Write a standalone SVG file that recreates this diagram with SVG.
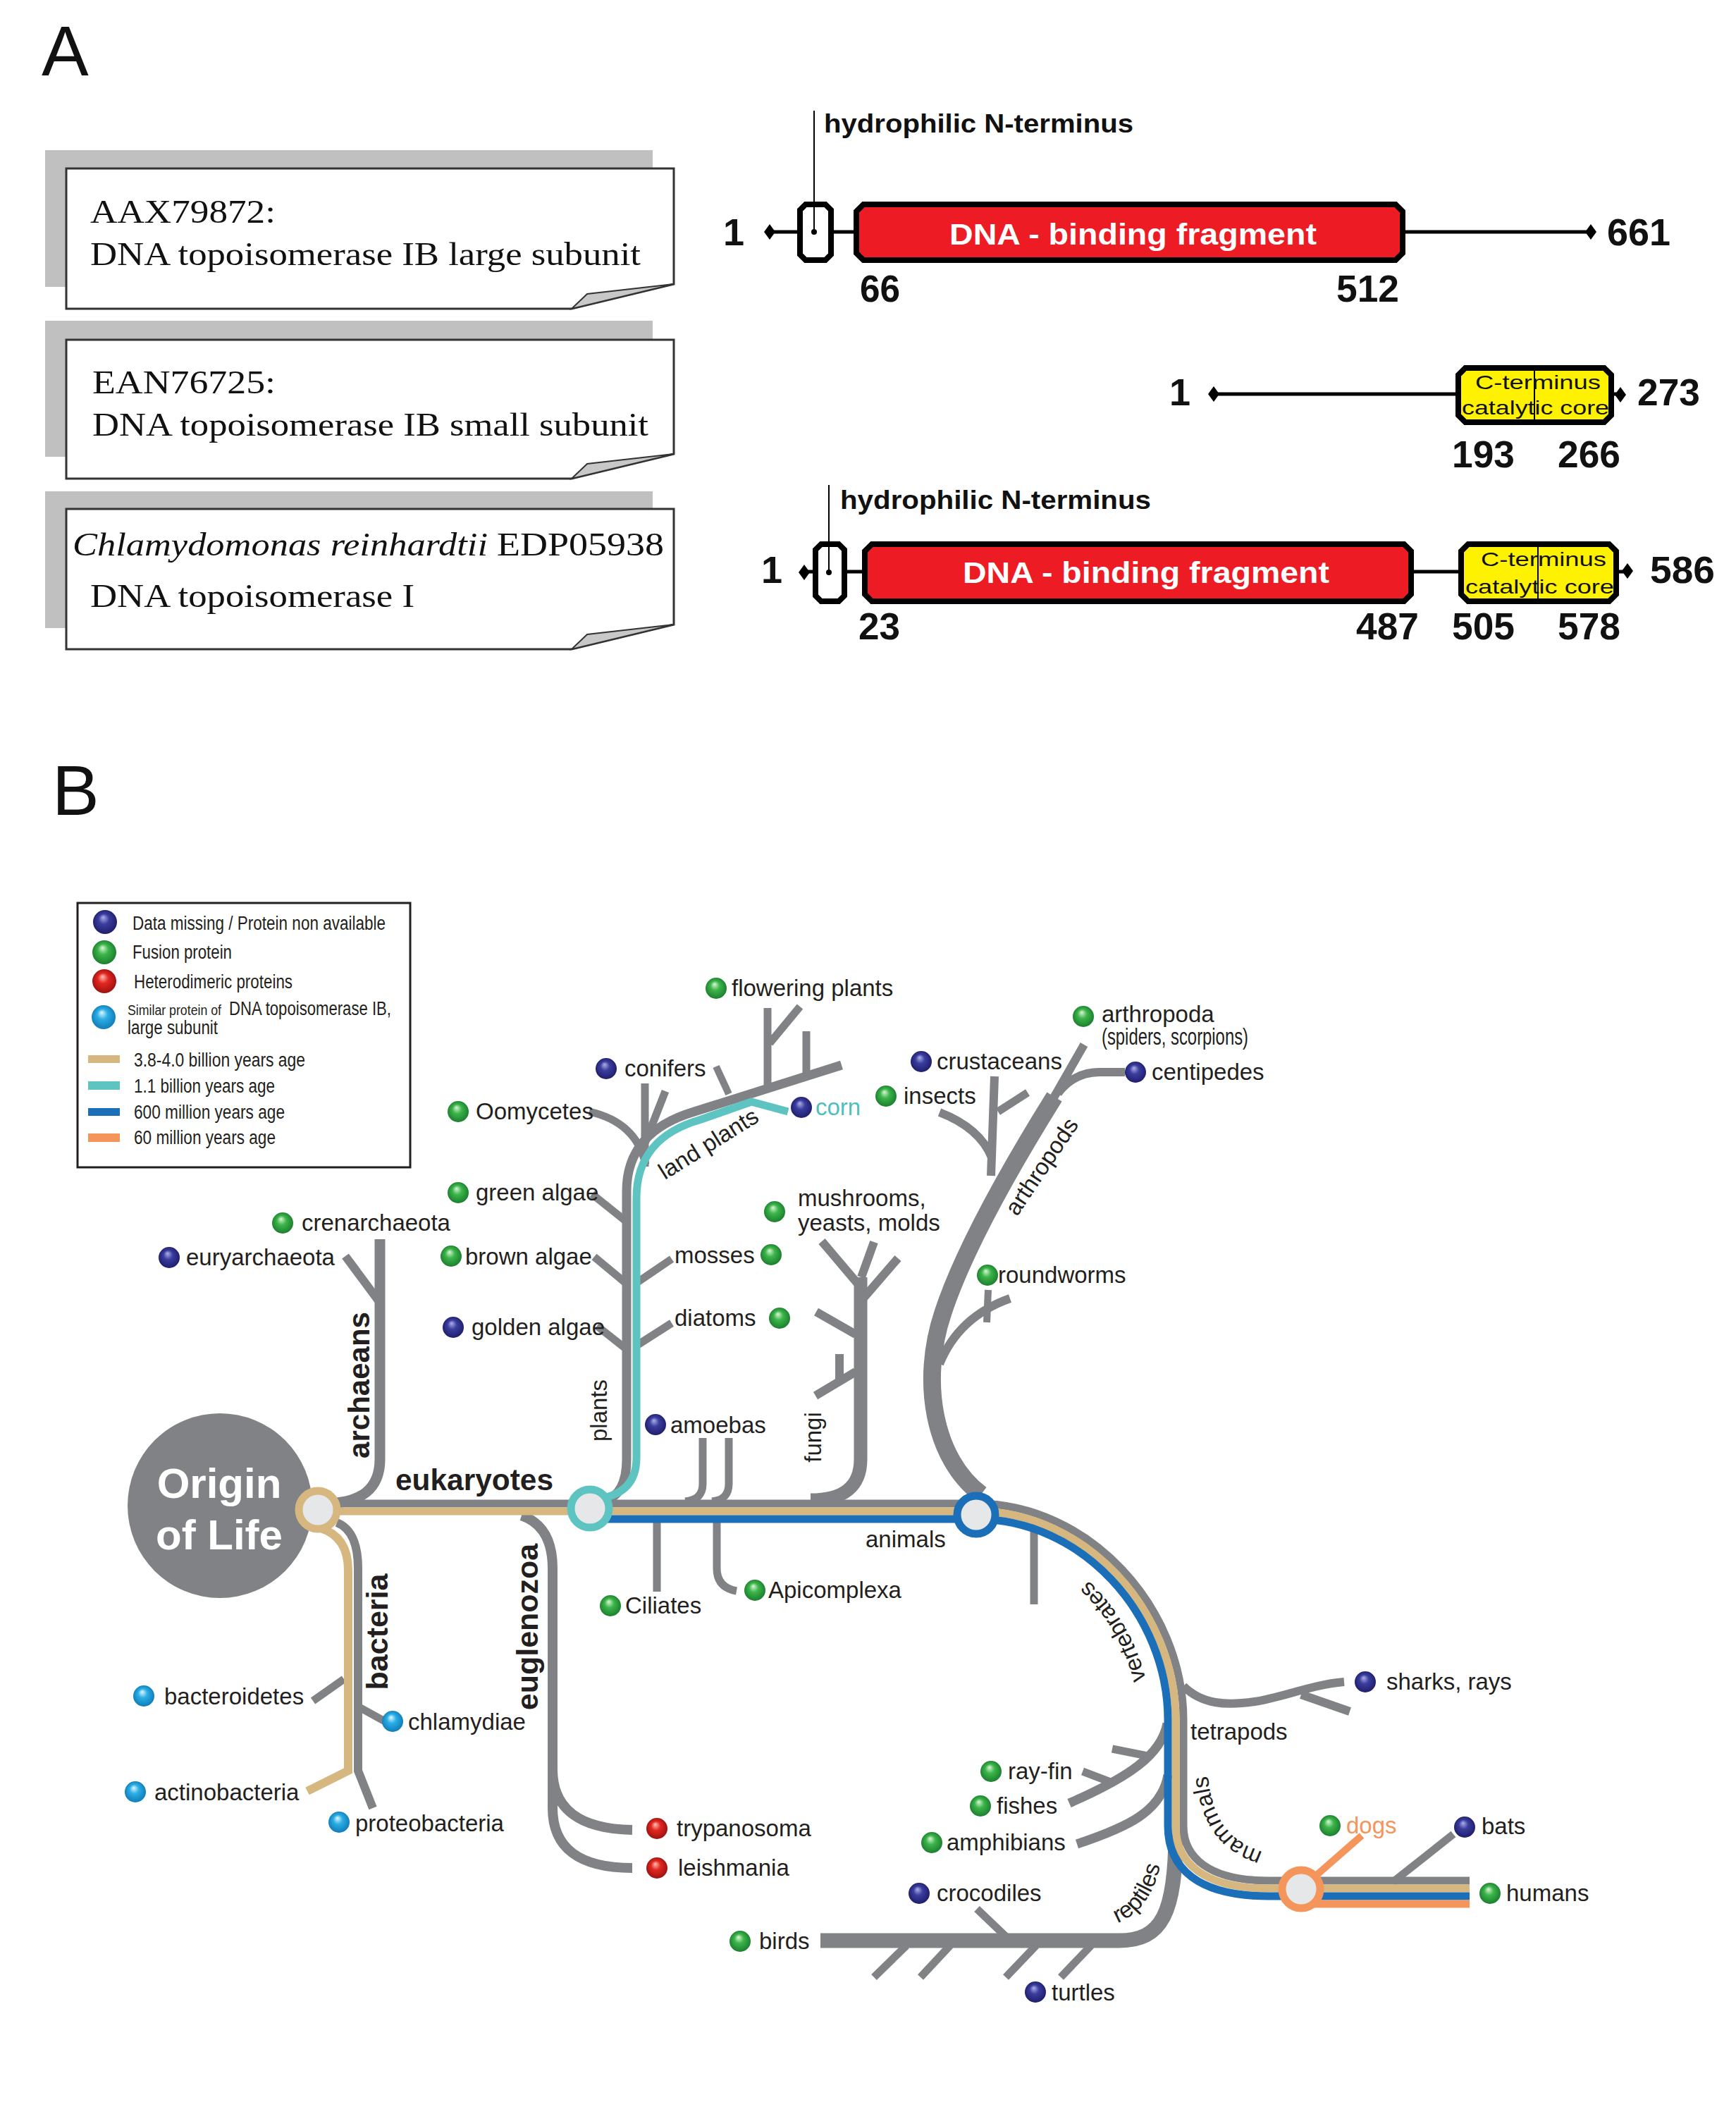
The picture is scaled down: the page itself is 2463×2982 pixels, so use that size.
<svg xmlns="http://www.w3.org/2000/svg" xmlns:xlink="http://www.w3.org/1999/xlink" width="2463" height="2982" viewBox="0 0 2463 2982">
<defs>
<radialGradient id="gB" cx="0.5" cy="0.5" r="0.55" fx="0.42" fy="0.3"><stop offset="0" stop-color="#b0b0ea"/><stop offset="0.4" stop-color="#3a3d9e"/><stop offset="1" stop-color="#1c1a66"/></radialGradient>
<radialGradient id="gG" cx="0.5" cy="0.5" r="0.55" fx="0.42" fy="0.3"><stop offset="0" stop-color="#dcf7d6"/><stop offset="0.4" stop-color="#3cb54a"/><stop offset="1" stop-color="#18782b"/></radialGradient>
<radialGradient id="gR" cx="0.5" cy="0.5" r="0.55" fx="0.42" fy="0.3"><stop offset="0" stop-color="#ffc0b6"/><stop offset="0.4" stop-color="#e3271f"/><stop offset="1" stop-color="#951010"/></radialGradient>
<radialGradient id="gC" cx="0.5" cy="0.5" r="0.55" fx="0.42" fy="0.3"><stop offset="0" stop-color="#e0f8ff"/><stop offset="0.4" stop-color="#2aade5"/><stop offset="1" stop-color="#0d77b3"/></radialGradient>
<circle id="bB" r="15" fill="url(#gB)"/>
<circle id="bG" r="15" fill="url(#gG)"/>
<circle id="bR" r="15" fill="url(#gR)"/>
<circle id="bC" r="15" fill="url(#gC)"/>
<path id="dia" d="M-8,0 L0,-11 L8,0 L0,11 Z" fill="#000"/>
<path id="vtp" d="M 1632,2440 C 1632,2305 1522,2178 1385,2178"/>
<path id="mtp" d="M 1806,2630 C 1751,2620 1716,2585 1713,2505"/>
<path id="rtp" d="M 1530,2738 C 1605,2738 1650,2700 1652,2590"/>
</defs>
<style>
.serif{font-family:"Liberation Serif","Times New Roman",serif;font-size:46px;fill:#111}
.num{font-family:"Liberation Sans",Arial,sans-serif;font-weight:bold;font-size:54px;fill:#111}
.hyd{font-family:"Liberation Sans",Arial,sans-serif;font-weight:bold;font-size:36px;fill:#111}
.dbf{font-family:"Liberation Sans",Arial,sans-serif;font-weight:bold;font-size:43px;fill:#fff}
.ct{font-family:"Liberation Sans",Arial,sans-serif;font-size:28px;fill:#111}
.leg{font-family:"Liberation Sans",Arial,sans-serif;font-size:27px;fill:#231f20}
.lbl{font-family:"Liberation Sans",Arial,sans-serif;font-size:33px;fill:#231f20}
.bold{font-family:"Liberation Sans",Arial,sans-serif;font-weight:bold;fill:#231f20}
.panel{font-family:"Liberation Sans",Arial,sans-serif;font-size:100px;fill:#111}
.g{fill:none;stroke:#808285}
.dom{stroke:#000;stroke-width:8;stroke-linejoin:miter}
.bb{stroke:#000;stroke-width:5}
</style>
<rect width="2463" height="2982" fill="#fff"/>

<!-- Panel A -->
<text class="panel" x="59" y="107">A</text>

<g id="boxAAX">
<rect x="64" y="213" width="862" height="194" fill="#c0c0c0"/>
<polygon points="94,239 956,239 956,403 811,438 94,438" fill="#fff" stroke="#333" stroke-width="3"/>
<polygon points="811,438 833,417 956,403" fill="#c8c8c8" stroke="#333" stroke-width="2"/>
<text class="serif" x="128" y="316" textLength="263" lengthAdjust="spacingAndGlyphs">AAX79872:</text>
<text class="serif" x="128" y="376" textLength="781" lengthAdjust="spacingAndGlyphs">DNA topoisomerase IB large subunit</text>
</g>
<g id="boxEAN">
<rect x="64" y="455" width="862" height="193" fill="#c0c0c0"/>
<polygon points="94,482 956,482 956,644 811,679 94,679" fill="#fff" stroke="#333" stroke-width="3"/>
<polygon points="811,679 833,658 956,644" fill="#c8c8c8" stroke="#333" stroke-width="2"/>
<text class="serif" x="131" y="558" textLength="260" lengthAdjust="spacingAndGlyphs">EAN76725:</text>
<text class="serif" x="131" y="618" textLength="789" lengthAdjust="spacingAndGlyphs">DNA topoisomerase IB small subunit</text>
</g>
<g id="boxEDP">
<rect x="64" y="697" width="862" height="194" fill="#c0c0c0"/>
<polygon points="94,722 956,722 956,886 811,921 94,921" fill="#fff" stroke="#333" stroke-width="3"/>
<polygon points="811,921 833,900 956,886" fill="#c8c8c8" stroke="#333" stroke-width="2"/>
<text class="serif" x="103" y="788" font-style="italic" textLength="589" lengthAdjust="spacingAndGlyphs">Chlamydomonas reinhardtii</text>
<text class="serif" x="705" y="788" textLength="237" lengthAdjust="spacingAndGlyphs">EDP05938</text>
<text class="serif" x="128" y="861" textLength="460" lengthAdjust="spacingAndGlyphs">DNA topoisomerase I</text>
</g>

<g id="protein1">
<line class="bb" x1="1092" y1="329" x2="2257" y2="329"/>
<use href="#dia" x="1092" y="329"/>
<use href="#dia" x="2257" y="329"/>
<line x1="1155" y1="157" x2="1155" y2="329" stroke="#000" stroke-width="2"/>
<polygon class="dom" points="1143,290 1171,290 1179,298 1179,361 1171,369 1143,369 1135,361 1135,298" fill="#fff"/>
<line x1="1155" y1="294" x2="1155" y2="329" stroke="#000" stroke-width="2"/>
<circle cx="1155" cy="329" r="4" fill="#000"/>
<polygon class="dom" points="1225,290 1980,290 1990,300 1990,359 1980,369 1225,369 1215,359 1215,300" fill="#ed1c24"/>
<text class="dbf" x="1347" y="347" textLength="521" lengthAdjust="spacingAndGlyphs">DNA - binding fragment</text>
<text class="hyd" x="1169" y="188" textLength="439" lengthAdjust="spacingAndGlyphs">hydrophilic N-terminus</text>
<text class="num" x="1026" y="348">1</text>
<text class="num" x="2280" y="348" textLength="90" lengthAdjust="spacingAndGlyphs">661</text>
<text class="num" x="1220" y="428" textLength="57" lengthAdjust="spacingAndGlyphs">66</text>
<text class="num" x="1896" y="428" textLength="89" lengthAdjust="spacingAndGlyphs">512</text>
</g>

<g id="protein2">
<line class="bb" x1="1722" y1="559" x2="2299" y2="559"/>
<use href="#dia" x="1722" y="559"/>
<use href="#dia" x="2299" y="560"/>
<polygon class="dom" points="2079,522 2276,522 2286,532 2286,589 2276,599 2079,599 2069,589 2069,532" fill="#fff200"/>
<line x1="2177" y1="524" x2="2177" y2="597" stroke="#000" stroke-width="2"/>
<text class="ct" x="2093" y="552" textLength="178" lengthAdjust="spacingAndGlyphs">C-terminus</text>
<text class="ct" x="2074" y="588" textLength="209" lengthAdjust="spacingAndGlyphs">catalytic core</text>
<text class="num" x="1659" y="575">1</text>
<text class="num" x="2323" y="575" textLength="89" lengthAdjust="spacingAndGlyphs">273</text>
<text class="num" x="2060" y="663" textLength="89" lengthAdjust="spacingAndGlyphs">193</text>
<text class="num" x="2210" y="663" textLength="89" lengthAdjust="spacingAndGlyphs">266</text>
</g>

<g id="protein3">
<line class="bb" x1="1141" y1="811" x2="2309" y2="811"/>
<use href="#dia" x="1141" y="812"/>
<use href="#dia" x="2309" y="810"/>
<line x1="1176" y1="688" x2="1176" y2="812" stroke="#000" stroke-width="2"/>
<polygon class="dom" points="1165,772 1190,772 1198,780 1198,845 1190,853 1165,853 1157,845 1157,780" fill="#fff"/>
<line x1="1176" y1="776" x2="1176" y2="812" stroke="#000" stroke-width="2"/>
<circle cx="1176" cy="812" r="4" fill="#000"/>
<polygon class="dom" points="1237,772 1992,772 2002,782 2002,843 1992,853 1237,853 1227,843 1227,782" fill="#ed1c24"/>
<polygon class="dom" points="2083,772 2283,772 2293,782 2293,843 2283,853 2083,853 2073,843 2073,782" fill="#fff200"/>
<line x1="2182" y1="776" x2="2182" y2="849" stroke="#000" stroke-width="2"/>
<text class="ct" x="2101" y="803" textLength="178" lengthAdjust="spacingAndGlyphs">C-terminus</text>
<text class="ct" x="2079" y="842" textLength="211" lengthAdjust="spacingAndGlyphs">catalytic core</text>
<text class="dbf" x="1366" y="827" textLength="520" lengthAdjust="spacingAndGlyphs">DNA - binding fragment</text>
<text class="hyd" x="1192" y="722" textLength="441" lengthAdjust="spacingAndGlyphs">hydrophilic N-terminus</text>
<text class="num" x="1080" y="827">1</text>
<text class="num" x="2341" y="827" textLength="92" lengthAdjust="spacingAndGlyphs">586</text>
<text class="num" x="1218" y="907" textLength="59" lengthAdjust="spacingAndGlyphs">23</text>
<text class="num" x="1924" y="907" textLength="89" lengthAdjust="spacingAndGlyphs">487</text>
<text class="num" x="2060" y="907" textLength="89" lengthAdjust="spacingAndGlyphs">505</text>
<text class="num" x="2210" y="907" textLength="89" lengthAdjust="spacingAndGlyphs">578</text>
</g>

<!-- Panel B -->
<text class="panel" x="74" y="1156" font-size="96">B</text>

<g id="legend">
<rect x="110" y="1281" width="472" height="375" fill="#fff" stroke="#231f20" stroke-width="3"/>
<circle cx="149" cy="1308" r="17" fill="url(#gB)"/>
<circle cx="148" cy="1351" r="17" fill="url(#gG)"/>
<circle cx="148" cy="1392" r="17" fill="url(#gR)"/>
<circle cx="147" cy="1443" r="17" fill="url(#gC)"/>
<rect x="125" y="1497" width="45" height="11" fill="#d6b77f"/>
<rect x="125" y="1534" width="45" height="12" fill="#5dc4c2"/>
<rect x="125" y="1572" width="45" height="11" fill="#1b6fb8"/>
<rect x="125" y="1608" width="45" height="12" fill="#f4955b"/>
<text class="leg" x="188" y="1319" textLength="359" lengthAdjust="spacingAndGlyphs">Data missing / Protein non available</text>
<text class="leg" x="188" y="1360" textLength="141" lengthAdjust="spacingAndGlyphs">Fusion protein</text>
<text class="leg" x="190" y="1402" textLength="225" lengthAdjust="spacingAndGlyphs">Heterodimeric proteins</text>
<text class="leg" y="1440"><tspan x="181" font-size="20" textLength="133" lengthAdjust="spacingAndGlyphs">Similar protein of</tspan><tspan x="325" textLength="230" lengthAdjust="spacingAndGlyphs">DNA topoisomerase IB,</tspan></text>
<text class="leg" x="181" y="1467" textLength="128" lengthAdjust="spacingAndGlyphs">large subunit</text>
<text class="leg" x="190" y="1513" textLength="243" lengthAdjust="spacingAndGlyphs">3.8-4.0 billion years age</text>
<text class="leg" x="190" y="1550" textLength="200" lengthAdjust="spacingAndGlyphs">1.1 billion years age</text>
<text class="leg" x="190" y="1587" textLength="214" lengthAdjust="spacingAndGlyphs">600 million years age</text>
<text class="leg" x="190" y="1623" textLength="201" lengthAdjust="spacingAndGlyphs">60 million years age</text>
</g>

<g id="connectors">
<!-- gray branches -->
<path class="g" stroke-width="15" d="M 460,2133 Q 539,2133 539,2070 V 1758"/>
<path class="g" stroke-width="12" d="M 539,1848 L 490,1782"/>
<path class="g" stroke-width="13" d="M 855,2130 Q 889,2122 889,2070 V 1690 C 889,1630 925,1595 985,1577 L 1194,1511"/>
<path class="g" stroke-width="11" d="M 915,1655 V 1537 M 915,1622 L 944,1548"/>
<path class="g" stroke-width="11" d="M 836,1577 Q 903,1592 916,1652"/>
<path class="g" stroke-width="10" d="M 1016,1513 L 1034,1552"/>
<path class="g" stroke-width="11" d="M 1089,1542 V 1430 M 1092,1480 L 1135,1428 M 1144,1524 V 1463"/>
<path class="g" stroke-width="11" d="M 840,1694 L 890,1734 M 843,1783 L 890,1822 M 847,1881 L 890,1915"/>
<path class="g" stroke-width="11" d="M 903,1820 L 953,1786 M 903,1909 L 953,1877"/>
<path class="g" stroke-width="11" d="M 997,2040 V 2105 Q 997,2128 972,2130 M 1034,2040 V 2105 Q 1034,2128 1010,2130"/>
<path class="g" stroke-width="19" d="M 1150,2128 Q 1221,2128 1221,2070 V 1812"/>
<path class="g" stroke-width="12" d="M 1216,1820 L 1166,1761 M 1222,1812 L 1240,1762 M 1223,1844 L 1274,1785 M 1214,1893 L 1158,1861 M 1214,1946 L 1157,1980 M 1191,1921 V 1958"/>
<path class="g" stroke-width="25" d="M 1392,2120 C 1325,2070 1305,1960 1338,1862 C 1365,1780 1425,1670 1496,1556"/>
<path class="g" stroke-width="12" d="M 1490,1566 L 1538,1482 M 1501,1551 Q 1524,1521 1560,1521 L 1596,1521"/>
<path class="g" stroke-width="12" d="M 1411,1527 L 1406,1668 M 1333,1578 Q 1390,1600 1407,1642"/>
<path class="g" stroke-width="11" d="M 1416,1577 L 1458,1550"/>
<path class="g" stroke-width="12" d="M 1333,1935 Q 1360,1868 1433,1842"/>
<path class="g" stroke-width="10" d="M 1402,1830 L 1400,1876"/>
<path class="g" stroke-width="11" d="M 932,2160 V 2258"/>
<path class="g" stroke-width="11" d="M 1017,2160 V 2225 Q 1017,2252 1045,2257"/>
<path class="g" stroke-width="11" d="M 1467,2160 V 2276"/>
<path class="g" stroke-width="14" d="M 740,2150 Q 784,2165 784,2225 V 2510 Q 784,2594 897,2596 M 784,2500 V 2565 Q 784,2650 897,2650"/>
<path class="g" stroke-width="12" d="M 478,2160 Q 508,2172 508,2225 V 2512 L 529,2565"/>
<path class="g" stroke-width="11" d="M 488,2382 L 444,2413 M 508,2421 L 546,2442"/>
<path class="g" stroke-width="12" d="M 1679,2392 C 1705,2418 1740,2420 1780,2414 C 1820,2408 1860,2390 1907,2386 M 1846,2404 L 1915,2428"/>
<path class="g" stroke-width="13" d="M 1656,2445 C 1648,2490 1600,2522 1517,2558 M 1657,2518 C 1648,2570 1600,2592 1528,2616"/>
<path class="g" stroke-width="11" d="M 1578,2481 L 1628,2491 M 1536,2513 L 1578,2529"/>
<path class="g" stroke-width="21" d="M 1668,2600 C 1668,2715 1648,2753 1588,2753 H 1164"/>
<path class="g" stroke-width="11" d="M 1386,2708 L 1430,2750 M 1240,2805 L 1286,2760 M 1306,2805 L 1348,2760 M 1427,2805 L 1470,2760 M 1505,2805 L 1548,2760"/>
<path class="g" stroke-width="11" d="M 1976,2670 L 2062,2602"/>
<!-- colored lineage lines -->
<path fill="none" stroke="#808285" stroke-width="11" d="M 451,2133 H 1385 C 1545,2133 1679,2280 1679,2440 V 2590 C 1679,2635 1715,2668 1800,2668 H 2085"/>
<path fill="none" stroke="#d6b77f" stroke-width="11" d="M 451,2144 H 1385 C 1540,2144 1668,2285 1668,2440 V 2590 C 1668,2643 1708,2679 1800,2679 H 2085"/>
<path fill="none" stroke="#1b6fb8" stroke-width="11" d="M 837,2155 H 1385 C 1535,2155 1657,2290 1657,2440 V 2590 C 1657,2651 1700,2690 1800,2690 H 2085"/>
<path fill="none" stroke="#f4955b" stroke-width="11" d="M 1846,2701 H 2085"/>
<path fill="none" stroke="#f4955b" stroke-width="10" d="M 1868,2660 L 1932,2604"/>
<path fill="none" stroke="#d6b77f" stroke-width="12" d="M 455,2168 Q 494,2180 494,2228 V 2512 L 436,2541"/>
<path fill="none" stroke="#5dc4c2" stroke-width="11" d="M 850,2126 Q 903,2118 903,2068 V 1700 C 903,1640 935,1605 995,1588 L 1066,1563 L 1118,1577"/>
</g>

<g id="origin">
<circle cx="312" cy="2136" r="131" fill="#808285"/>
<text class="bold" x="311" y="2125" font-size="60" style="fill:#fff" text-anchor="middle">Origin</text>
<text class="bold" x="311" y="2198" font-size="60" style="fill:#fff" text-anchor="middle">of Life</text>
</g>
<g id="node-eukaryotes"><circle cx="451" cy="2142" r="27" fill="#e6e7e8" stroke="#d6b77f" stroke-width="11"/></g>
<g id="node-plants"><circle cx="837" cy="2140" r="27" fill="#e6e7e8" stroke="#5dc4c2" stroke-width="11"/></g>
<g id="node-animals"><circle cx="1385" cy="2149" r="27" fill="#e6e7e8" stroke="#1b6fb8" stroke-width="11"/></g>
<g id="node-mammals"><circle cx="1846" cy="2680" r="27" fill="#e6e7e8" stroke="#f4955b" stroke-width="11"/></g>

<g id="group-labels">
<text class="bold" font-size="42" transform="translate(524,1965) rotate(-90)" text-anchor="middle">archaeans</text>
<text class="bold" font-size="42" x="561" y="2114" textLength="224" lengthAdjust="spacingAndGlyphs">eukaryotes</text>
<text class="bold" font-size="43" transform="translate(550,2315) rotate(-90)" text-anchor="middle">bacteria</text>
<text class="bold" font-size="43" transform="translate(763,2308) rotate(-90)" text-anchor="middle">euglenozoa</text>
<text class="lbl" transform="translate(861,2001) rotate(-90)" text-anchor="middle">plants</text>
<text class="lbl" transform="translate(1165,2039) rotate(-90)" text-anchor="middle">fungi</text>
<text class="lbl" transform="translate(1011,1632) rotate(-32)" text-anchor="middle">land plants</text>
<text class="lbl" transform="translate(1487,1661) rotate(-56)" text-anchor="middle">arthropods</text>
<text class="lbl" x="1228" y="2195">animals</text>
<text class="lbl" x="1689" y="2468">tetrapods</text>
<text class="lbl"><textPath href="#vtp" startOffset="140" text-anchor="middle">vertebrates</textPath></text>
<text class="lbl"><textPath href="#mtp" startOffset="50%" text-anchor="middle">mammals</textPath></text>
<text class="lbl"><textPath href="#rtp" startOffset="50%" text-anchor="middle">reptiles</textPath></text>
</g>

<g id="n-flowering"><use href="#bG" x="1016" y="1402"/><text class="lbl" x="1038" y="1413">flowering plants</text></g>
<g id="n-conifers"><use href="#bB" x="860" y="1516"/><text class="lbl" x="886" y="1527">conifers</text></g>
<g id="n-oomycetes"><use href="#bG" x="650" y="1577"/><text class="lbl" x="675" y="1588">Oomycetes</text></g>
<g id="n-corn"><use href="#bB" x="1137" y="1571"/><text class="lbl" x="1157" y="1582" style="fill:#4fbfbb">corn</text></g>
<g id="n-greenalgae"><use href="#bG" x="650" y="1692"/><text class="lbl" x="675" y="1703">green algae</text></g>
<g id="n-brownalgae"><use href="#bG" x="640" y="1782"/><text class="lbl" x="660" y="1794">brown algae</text></g>
<g id="n-goldenalgae"><use href="#bB" x="643" y="1883"/><text class="lbl" x="669" y="1894">golden algae</text></g>
<g id="n-mosses"><use href="#bG" x="1094" y="1780"/><text class="lbl" x="957" y="1792">mosses</text></g>
<g id="n-diatoms"><use href="#bG" x="1106" y="1870"/><text class="lbl" x="957" y="1881">diatoms</text></g>
<g id="n-amoebas"><use href="#bB" x="930" y="2021"/><text class="lbl" x="951" y="2033">amoebas</text></g>
<g id="n-mushrooms"><use href="#bG" x="1099" y="1719"/><text class="lbl" x="1132" y="1711">mushrooms,</text><text class="lbl" x="1132" y="1746">yeasts, molds</text></g>
<g id="n-crenarchaeota"><use href="#bG" x="401" y="1735"/><text class="lbl" x="428" y="1746">crenarchaeota</text></g>
<g id="n-euryarchaeota"><use href="#bB" x="240" y="1784"/><text class="lbl" x="264" y="1795">euryarchaeota</text></g>
<g id="n-crustaceans"><use href="#bB" x="1307" y="1506"/><text class="lbl" x="1329" y="1517">crustaceans</text></g>
<g id="n-insects"><use href="#bG" x="1257" y="1555"/><text class="lbl" x="1282" y="1566">insects</text></g>
<g id="n-arthropoda"><use href="#bG" x="1537" y="1442"/><text class="lbl" x="1563" y="1450">arthropoda</text><text class="lbl" x="1563" y="1482" font-size="22" textLength="208" lengthAdjust="spacingAndGlyphs">(spiders, scorpions)</text></g>
<g id="n-centipedes"><use href="#bB" x="1611" y="1521"/><text class="lbl" x="1634" y="1532">centipedes</text></g>
<g id="n-roundworms"><use href="#bG" x="1401" y="1809"/><text class="lbl" x="1416" y="1820">roundworms</text></g>
<g id="n-ciliates"><use href="#bG" x="866" y="2278"/><text class="lbl" x="887" y="2289">Ciliates</text></g>
<g id="n-apicomplexa"><use href="#bG" x="1071" y="2256"/><text class="lbl" x="1090" y="2267">Apicomplexa</text></g>
<g id="n-bacteroidetes"><use href="#bC" x="204" y="2406"/><text class="lbl" x="233" y="2418">bacteroidetes</text></g>
<g id="n-chlamydiae"><use href="#bC" x="557" y="2442"/><text class="lbl" x="579" y="2454">chlamydiae</text></g>
<g id="n-actinobacteria"><use href="#bC" x="192" y="2542"/><text class="lbl" x="219" y="2554">actinobacteria</text></g>
<g id="n-proteobacteria"><use href="#bC" x="481" y="2585"/><text class="lbl" x="504" y="2598">proteobacteria</text></g>
<g id="n-trypanosoma"><use href="#bR" x="932" y="2594"/><text class="lbl" x="960" y="2605">trypanosoma</text></g>
<g id="n-leishmania"><use href="#bR" x="932" y="2650"/><text class="lbl" x="962" y="2661">leishmania</text></g>
<g id="n-sharks"><use href="#bB" x="1937" y="2386"/><text class="lbl" x="1967" y="2397">sharks, rays</text></g>
<g id="n-rayfin"><use href="#bG" x="1406" y="2513"/><text class="lbl" x="1430" y="2524">ray-fin</text></g>
<g id="n-fishes"><use href="#bG" x="1391" y="2562"/><text class="lbl" x="1414" y="2573">fishes</text></g>
<g id="n-amphibians"><use href="#bG" x="1322" y="2614"/><text class="lbl" x="1343" y="2625">amphibians</text></g>
<g id="n-dogs"><use href="#bG" x="1887" y="2590"/><text class="lbl" x="1910" y="2601" style="fill:#f4955b">dogs</text></g>
<g id="n-bats"><use href="#bB" x="2078" y="2592"/><text class="lbl" x="2102" y="2602">bats</text></g>
<g id="n-humans"><use href="#bG" x="2114" y="2686"/><text class="lbl" x="2137" y="2697">humans</text></g>
<g id="n-crocodiles"><use href="#bB" x="1304" y="2686"/><text class="lbl" x="1329" y="2697">crocodiles</text></g>
<g id="n-birds"><use href="#bG" x="1050" y="2754"/><text class="lbl" x="1077" y="2765">birds</text></g>
<g id="n-turtles"><use href="#bB" x="1469" y="2826"/><text class="lbl" x="1492" y="2838">turtles</text></g>
</svg>
